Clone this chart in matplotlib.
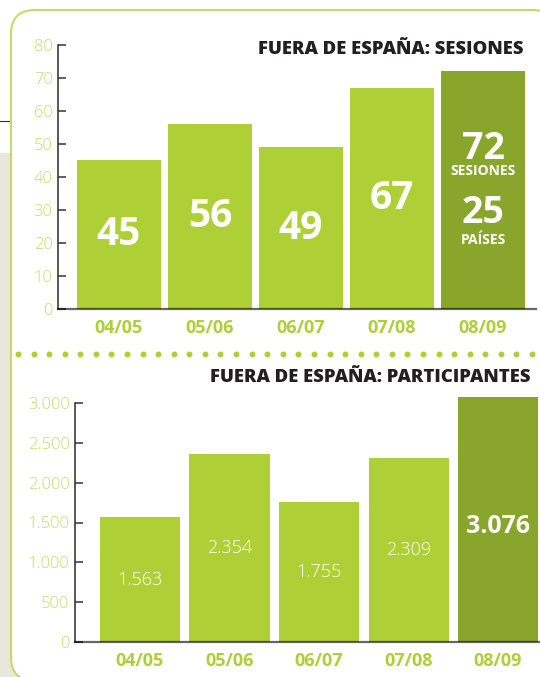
import matplotlib
matplotlib.use('Agg')
import matplotlib.pyplot as plt
from matplotlib.patches import FancyBboxPatch, Rectangle
from matplotlib.lines import Line2D
from matplotlib.transforms import IdentityTransform
import numpy as np

# datos
temporadas = ['04/05', '05/06', '06/07', '07/08', '08/09']
sesiones = [45, 56, 49, 67, 72]
paises_0809 = 25
participantes = [1563, 2354, 1755, 2309, 3076]

titulo_sup = 'FUERA DE ESPAÑA: SESIONES'
titulo_inf = 'FUERA DE ESPAÑA: PARTICIPANTES'

verde = '#AFCF36'
verde_osc = '#8AA52B'
verde_claro = '#C6DD6C'
negro = '#231F20'
fam = 'Open Sans'

W, H = 540, 677
fig = plt.figure(figsize=(W / 100, H / 100), dpi=100)
fig.patch.set_facecolor('white')
px = IdentityTransform()

# fondo / marco
fig.add_artist(Rectangle((0, 0), 60, H - 153, transform=px, color='#E9E7DC', zorder=-3))
fig.add_artist(Line2D([0, 14], [H - 121, H - 121], transform=px, color='#333333', lw=0.8, zorder=-2.5))
fig.add_artist(FancyBboxPatch((11, -4), 545, H - 10 + 4, boxstyle='round,pad=0,rounding_size=24',
                              transform=px, facecolor='white', edgecolor='#C3DB66', lw=1.5, zorder=-2))

# separador de puntos
xs = np.linspace(18, 532, 34)
fig.add_artist(Line2D(xs, [H - 354] * len(xs), transform=px, ls='none', marker='o',
                      ms=4.3, mfc=verde, mec='none', zorder=5))


def ejes(x0, x1, y_base, y_top):
    ax = fig.add_axes([x0 / W, (H - y_base) / H, (x1 - x0) / W, (y_base - y_top) / H])
    ax.patch.set_visible(False)
    ax.spines['top'].set_visible(False)
    ax.spines['right'].set_visible(False)
    ax.spines['left'].set_color('#2a2a2a')
    ax.spines['left'].set_linewidth(1.1)
    ax.spines['bottom'].set_color((0, 0, 0, 0.6))
    ax.spines['bottom'].set_linewidth(1.6)
    ax.spines['bottom'].set_zorder(4)
    ax.tick_params(axis='y', direction='in', length=5.8, width=1.1, color='#333333',
                   labelcolor=verde_claro, labelsize=12, pad=4)
    ax.tick_params(axis='x', length=0, labelcolor=verde, pad=7)
    return ax


# grafico superior: sesiones
ax1 = ejes(58, 536, 309, 45)
x = np.arange(len(temporadas))
colores = [verde] * 4 + [verde_osc]
ax1.bar(x, sesiones, width=0.923, color=colores, zorder=2, clip_on=False)
ax1.set_xlim(-0.670, 4.582)
ax1.set_ylim(0, 80)
ax1.set_yticks(range(0, 81, 10))
ax1.set_yticklabels([str(v) for v in range(0, 81, 10)], family=fam, fontweight='light')
ax1.set_xticks(x)
ax1.set_xticklabels(temporadas, family=fam, fontweight='bold', fontsize=13)
for i, v in enumerate(sesiones[:4]):
    ax1.text(i, v / 2, str(v), ha='center', va='center', color='white',
             fontsize=28, fontweight='bold', family=fam, zorder=3)
ax1.text(4, 45.6, str(sesiones[4]), ha='center', va='baseline', color='white',
         fontsize=27, fontweight='bold', family=fam, zorder=3)
ax1.text(4, 41.9, 'SESIONES', ha='center', va='center', color='white',
         fontsize=10, fontweight='bold', family=fam, zorder=3)
ax1.text(4, 26.2, str(paises_0809), ha='center', va='baseline', color='white',
         fontsize=27, fontweight='bold', family=fam, zorder=3)
ax1.text(4, 20.9, 'PAÍSES', ha='center', va='center', color='white',
         fontsize=10, fontweight='bold', family=fam, zorder=3)

fig.text(524 / W, 1 - 49 / H, titulo_sup, ha='right', va='center', color=negro,
         fontsize=13.3, fontweight='heavy', family=fam)

# grafico inferior: participantes
ax2 = ejes(75, 540, 642, 403)
ax2.bar(x, participantes, width=0.894, color=colores, zorder=2, clip_on=False)
ax2.set_xlim(-0.726, 4.469)
ax2.set_ylim(0, 3000)
yt = range(0, 3001, 500)
ax2.set_yticks(yt)
ax2.set_yticklabels([f'{v:,}'.replace(',', '.') for v in yt], family=fam, fontweight='light')
ax2.set_xticks(x)
ax2.set_xticklabels(temporadas, family=fam, fontweight='bold', fontsize=13)
for i, v in enumerate(participantes):
    txt = f'{v:,}'.replace(',', '.')
    if i < 4:
        ax2.text(i, v / 2, txt, ha='center', va='center', color='white',
                 fontsize=13, fontweight='light', family=fam, zorder=3)
    else:
        ax2.text(i, v / 2 - 90, txt, ha='center', va='center', color='white',
                 fontsize=18, fontweight='bold', family=fam, zorder=3)

fig.text(530 / W, 1 - 377 / H, titulo_inf, ha='right', va='center', color=negro,
         fontsize=13.3, fontweight='heavy', family=fam)

fig.savefig('out.png', dpi=100)
